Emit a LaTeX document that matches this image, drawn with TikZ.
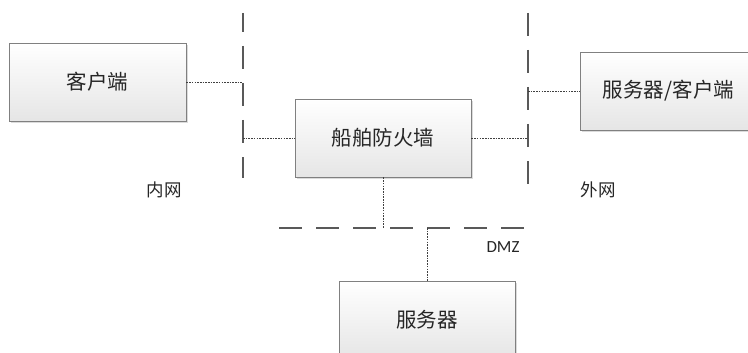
\documentclass[tikz,border=0pt]{standalone}
\usepackage{fontspec}
\setmainfont{Carlito}
\newfontfamily\cjk{Noto Sans CJK SC}
\usetikzlibrary{shadows}
\begin{document}
\begin{tikzpicture}[x=1pt,y=-1pt,
  box/.style={draw=black!50, line width=0.8pt, top color=white, bottom color=black!10,
    minimum width=177pt, minimum height=78pt, inner sep=0pt,
    font=\cjk\fontsize{20.5}{24}\selectfont, text=black!85,
    drop shadow={shadow xshift=2pt, shadow yshift=-2pt, opacity=0.35, fill=black!40}},
  zone/.style={draw=black!65, line width=1.2pt, dash pattern=on 23pt off 14pt},
  link/.style={draw=black!75, line width=0.9pt, dash pattern=on 1.6pt off 1.1pt},
  lab/.style={font=\cjk\fontsize{17.5}{20}\selectfont, text=black!85}]
\useasboundingbox (0,0) rectangle (748,353);
\clip (0,0) rectangle (748,353);
\fill[white] (0,0) rectangle (748,353);

% zone borders
\coordinate (l1) at (243,13); \coordinate (l2) at (243,178);
\coordinate (r1) at (528,13); \coordinate (r2) at (528,184);
\coordinate (h1) at (279,228); \coordinate (h2) at (526,228);
\draw[zone, dash phase=4pt] (l1) -- (l2);
\draw[zone] (r1) -- (r2);
\draw[zone] (h1) -- (h2);

% boxes
\node[box] (client) at (97.5,82) {客户端};
\node[box, minimum width=176pt] (fw) at (383,138) {船舶防火墙};
\node[box] (sc) at (668.5,91) {服务器/客户端};
\node[box, minimum width=176pt] (srv) at (427,320) {服务器};

% connector end points on zone borders
\coordinate (cL) at (243,82);
\coordinate (fL) at (243,138);
\coordinate (fR) at (528,138);
\coordinate (sR) at (528,91);
\coordinate (fD) at (383,228);
\coordinate (sD) at (427,228);

\draw[link] (client.east) -- (cL);
\draw[link] (fL) -- (fw.west);
\draw[link] (fw.east) -- (fR);
\draw[link] (sR) -- (sc.west);
\draw[link] (fw.south) -- (fD);
\draw[link] (sD) -- (srv.north);

% labels
\node[lab] (inner) at (164,190) {内网};
\node[lab] (outer) at (598,190) {外网};
\node[font=\fontsize{17}{20}\selectfont, text=black!85] (dmz) at (503,247) {DMZ};
\end{tikzpicture}
\end{document}
